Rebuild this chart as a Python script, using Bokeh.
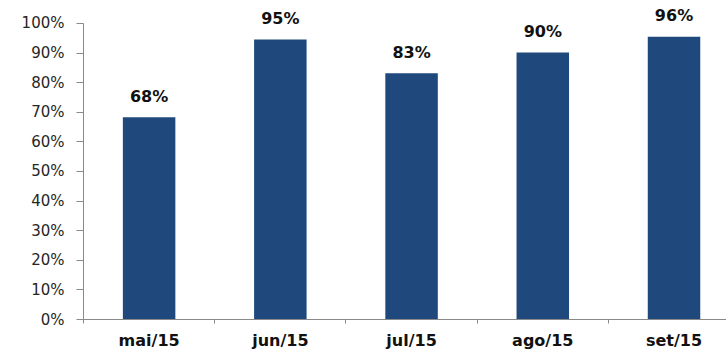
from bokeh.plotting import figure
from bokeh.models import Range1d, FixedTicker, NumeralTickFormatter, ColumnDataSource
from bokeh.core.properties import value
from bokeh.embed import file_html
from bokeh.resources import INLINE

categories = ["mai/15", "jun/15", "jul/15", "ago/15", "set/15"]
values = [0.683, 0.946, 0.832, 0.902, 0.955]
labels = ["68%", "95%", "83%", "90%", "96%"]
y_ticks = [0, 0.1, 0.2, 0.3, 0.4, 0.5, 0.6, 0.7, 0.8, 0.9, 1.0]

xs = [i + 0.5 for i in range(len(categories))]
src = ColumnDataSource(dict(x=xs, top=values, label=labels))

p = figure(width=726, height=352, output_backend="svg", toolbar_location=None,
           x_range=Range1d(0, 4.9), y_range=Range1d(0, 1.0777),
           min_border_left=83, min_border_right=0, min_border_top=0, min_border_bottom=33)
p.outline_line_color = None
p.xgrid.visible = False
p.ygrid.visible = False
p.background_fill_color = "white"
p.border_fill_color = "white"

p.vbar(x="x", top="top", width=0.40, bottom=0, source=src,
       fill_color="#1F497D", line_color=None)
p.text(x="x", y="top", text="label", source=src, text_align="center",
       text_baseline="middle", y_offset=-21,
       text_font=value("DejaVu Sans"), text_font_style="bold",
       text_font_size="16px", text_color="#111111")

axis_color = "#898989"
# y axis
ya = p.yaxis[0]
ya.ticker = FixedTicker(ticks=y_ticks)
ya.formatter = NumeralTickFormatter(format="0%")
ya.bounds = (0, 1)
ya.axis_line_color = axis_color
ya.major_tick_line_color = axis_color
ya.major_tick_in = 0
ya.major_tick_out = 7
ya.minor_tick_line_color = None
ya.major_label_standoff = 12
ya.major_label_text_font = "DejaVu Sans"
ya.major_label_text_font_size = "15px"
ya.major_label_text_color = "#262626"

# x axis
xa = p.xaxis[0]
xa.ticker = FixedTicker(ticks=xs, minor_ticks=[0, 1, 2, 3, 4, 5])
xa.major_label_overrides = {x: c for x, c in zip(xs, categories)}
xa.axis_line_color = axis_color
xa.major_tick_line_color = None
xa.minor_tick_line_color = axis_color
xa.minor_tick_in = 0
xa.minor_tick_out = 4
xa.major_tick_in = 0
xa.major_tick_out = 0
xa.major_label_standoff = 7
xa.major_label_text_font = "DejaVu Sans"
xa.major_label_text_font_style = "bold"
xa.major_label_text_font_size = "16px"
xa.major_label_text_color = "#111111"

open("out.html", "w").write(file_html(p, INLINE))
